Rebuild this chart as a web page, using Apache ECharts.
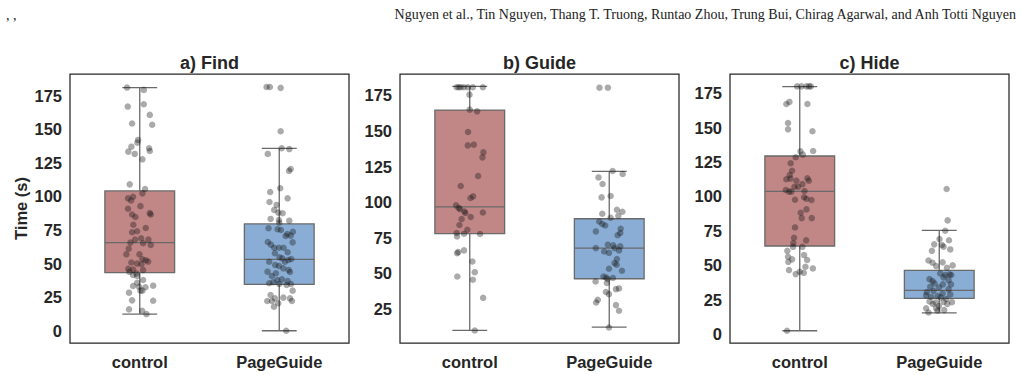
<!DOCTYPE html>
<html>
<head>
<meta charset="utf-8">
<script src="https://cdn.jsdelivr.net/npm/echarts@6/dist/echarts.min.js"></script>
<style>
  html, body { margin: 0; padding: 0; background: #fff; }
  #chart { width: 1021px; height: 375px; }
</style>
</head>
<body>
<div id="chart"></div>
<script>
const headerText = 'Nguyen et al., Tin Nguyen, Thang T. Truong, Runtao Zhou, Trung Bui, Chirag Agarwal, and Anh Totti Nguyen'
const panelTitles = ['a) Find', 'b) Guide', 'c) Hide']
const groups = ['control', 'PageGuide']
const yTicksFull = [0, 25, 50, 75, 100, 125, 150, 175]
const yTicksGuide = [25, 50, 75, 100, 125, 150, 175]

// box stats per group: [low whisker, q1, median, q3, high whisker]
const findBoxes = [[12.6, 43.4, 65.7, 104.1, 180.9], [0.2, 34.7, 53.3, 79.6, 135.8]]
const guideBoxes = [[10.0, 77.9, 96.8, 164.7, 181.3], [12.4, 46.3, 67.8, 88.4, 121.6]]
const hideBoxes = [[2.4, 64.0, 103.7, 129.4, 179.8], [15.4, 25.9, 31.7, 46.3, 75.4]]

// individual times (s) and their strip jitter (in category widths)
const findControlTime = [180.9, 179.2, 166.8, 168.5, 160.6, 154.2, 153.3, 142, 140, 137, 135.8, 133.3, 131.6, 133.8, 127.6, 109, 105.5, 102.3, 98.6, 99.8, 97, 92.8, 90.9, 86.6, 87.6, 86.6, 84.7, 79, 76.6, 73.4, 74.1, 68.9, 67.9, 67.9, 65.7, 65.2, 63.9, 61.2, 57, 57, 53.3, 52.6, 51.6, 50.9, 50.1, 49.6, 46.3, 45.7, 45.3, 44, 42.8, 41.6, 40.9, 37.9, 35.9, 33.5, 33.7, 32.9, 32.5, 30, 30, 28.5, 22.8, 22.5, 16.1, 15.1, 12.6]
const findControlJitter = [-0.091, 0.029, -0.086, 0.029, 0.072, -0.055, 0.089, -0.012, -0.017, -0.06, 0.067, -0.082, -0.036, 0.072, 0.019, -0.072, 0.038, 0.019, -0.084, -0.048, -0.062, 0.005, -0.084, -0.055, 0.072, 0.079, -0.031, -0.046, 0.043, -0.055, -0.019, 0.01, -0.034, 0.062, -0.067, 0.024, 0.079, -0.079, -0.096, -0.002, 0.019, 0.043, 0.06, -0.06, -0.019, 0.012, -0.082, -0.048, 0.024, -0.074, -0.024, -0.048, -0.019, 0.024, -0.019, -0.048, 0.096, -0.005, 0.041, 0.019, 0.005, -0.077, -0.055, 0.096, -0.077, 0.017, 0.048]
const findGuideTime = [181.3, 181.3, 180.7, 148.5, 135.8, 135.2, 131.6, 120.4, 119, 106.1, 103.3, 98.6, 95.9, 93.7, 90, 88, 87.5, 83.3, 82.5, 82, 80.5, 76.4, 75.6, 75.1, 73.8, 72.1, 70.9, 70.6, 66.2, 64.2, 65.9, 61.9, 61.9, 61.9, 58.5, 57.8, 54.8, 54, 52.8, 53.5, 51.5, 51.5, 49.1, 48.3, 46.6, 45.4, 43.9, 44.1, 42.9, 40.9, 38.4, 37.9, 37.2, 36.2, 35.5, 34.9, 34.9, 34.2, 30, 26.8, 24.3, 24.8, 24.3, 22.3, 22.3, 22.3, 20.6, 18.1, 0.2]
const findGuideJitter = [-0.091, -0.067, 0.01, 0.01, 0.017, 0.072, -0.082, 0.082, 0.07, 0.007, -0.065, 0.06, -0.07, -0.019, -0.036, -0.007, 0.024, -0.062, -0.002, 0.072, 0, -0.077, -0.012, 0.012, 0.098, 0.058, 0.082, 0.046, -0.082, -0.06, 0.096, -0.036, -0.002, 0.031, 0.06, -0.031, 0.002, 0.022, 0.065, 0.086, -0.072, 0.041, -0.029, -0.002, 0.029, 0.067, 0.077, -0.084, -0.024, -0.053, 0.019, -0.014, 0.06, -0.043, -0.072, 0.084, 0, 0.053, 0.096, -0.062, -0.031, 0.029, 0.077, -0.086, -0.053, 0.091, -0.007, -0.038, 0.05]

const guideControlTime = [180.7, 180.7, 180.7, 180.7, 180.7, 180.7, 180.7, 175.5, 165, 163.8, 149.3, 139.9, 140.4, 135, 131.5, 118.4, 111.4, 103, 104.1, 97.8, 96, 95.2, 93.5, 92.4, 92.8, 88.2, 89.6, 84, 80.7, 78.4, 77.9, 77.7, 76, 65, 64.3, 66.2, 58.4, 50.9, 47.9, 45.6, 32.9, 10]
const guideControlJitter = [-0.094, -0.079, -0.065, -0.043, -0.014, 0.022, 0.094, -0.002, 0, 0.053, -0.012, -0.014, 0.029, 0.098, 0.091, 0.06, -0.065, 0.005, 0.024, -0.098, -0.079, -0.07, -0.038, -0.031, 0.094, -0.058, 0.007, -0.074, -0.017, -0.094, -0.041, 0.074, -0.091, -0.082, -0.091, -0.041, 0.019, 0.036, -0.089, 0.022, 0.096, 0.036]
const guideGuideTime = [180.4, 180.4, 121.9, 119.8, 117.4, 112.8, 103.4, 104.4, 94.7, 93.3, 91.9, 90.5, 89.1, 86.5, 84.7, 83.7, 81.4, 79.5, 78.4, 76.8, 70.2, 69.7, 69, 67.8, 67.8, 66.2, 65.4, 64.5, 60.1, 57.3, 56.1, 53.3, 51.9, 47.9, 47.2, 46.1, 46.8, 44.4, 43.3, 39, 39.5, 37, 35.5, 31.5, 29.6, 27.8, 23.8, 12.1]
const guideGuideJitter = [-0.07, -0.01, 0.024, 0.096, -0.077, -0.048, -0.055, 0.01, 0.055, 0.094, -0.05, 0.065, 0.01, -0.072, -0.05, -0.029, 0.082, -0.096, 0.079, 0.06, -0.01, 0.029, 0.079, 0.038, -0.096, 0.07, -0.036, -0.002, 0.055, 0.038, 0.053, -0.002, 0.091, -0.041, -0.022, -0.012, 0.026, -0.098, -0.017, 0.048, 0.07, -0.024, -0.002, -0.082, -0.094, 0.048, 0.07, -0.002]

const hideControlTime = [180, 180, 180, 180, 180, 167.2, 168.7, 167.2, 153.4, 148.8, 147.4, 132.8, 133, 130.4, 128.5, 124.1, 118.7, 115.6, 112.5, 113, 113.2, 111.4, 109, 111.4, 107.1, 107.1, 104.7, 103.5, 103.5, 104, 99.4, 98.3, 97.4, 97.6, 90.6, 88.2, 84.3, 84.3, 77.5, 70, 68.1, 66.1, 63.4, 63.4, 60.5, 57.4, 56.2, 54.3, 52.5, 53.8, 48.9, 47.7, 46.5, 45.3, 44.5, 43.6, 2.4]
const hideControlJitter = [-0.019, 0.012, 0.048, 0.067, 0.079, -0.096, -0.074, 0.055, -0.084, -0.084, 0.091, 0.005, 0.096, 0.022, -0.029, -0.065, -0.055, -0.072, -0.096, -0.067, 0.055, -0.024, 0.019, 0.065, -0.012, -0.038, -0.1, -0.06, -0.077, 0.034, 0.031, 0.048, 0.084, -0.034, 0.048, 0.007, 0.086, 0.014, -0.034, -0.041, 0.046, -0.046, -0.048, 0.019, -0.089, 0.031, -0.084, -0.055, -0.082, 0.053, 0.041, 0.094, -0.077, 0, 0.029, -0.029, -0.091]
const hideGuideTime = [105.4, 82.6, 75.1, 69.1, 68.2, 65.2, 64.7, 63.5, 61.5, 60.5, 53.5, 51.8, 52.1, 49.9, 49.4, 48.2, 43.4, 42.9, 44.1, 42.9, 41.2, 39.9, 38.5, 39.2, 36.8, 36.1, 36.1, 34.3, 33.9, 32.5, 31.4, 30.5, 29.5, 28.8, 28.1, 27.6, 26.9, 26.7, 25.5, 23.7, 23, 23.4, 23.2, 21.8, 21.8, 20.3, 18.7, 18.7, 17.4, 15.7, 16.9]
const hideGuideJitter = [0.053, 0.06, 0.043, 0.002, 0.07, -0.036, 0.019, 0.031, 0.079, -0.053, -0.077, -0.048, 0.024, 0.096, -0.022, 0.055, 0.074, 0.086, 0.007, 0.043, 0.031, -0.07, -0.048, 0.067, -0.034, 0.084, 0.026, -0.065, -0.002, 0.067, -0.041, -0.089, 0.024, 0.079, -0.094, -0.012, -0.058, 0.01, 0.05, -0.07, -0.026, 0.031, 0.091, -0.046, 0.058, -0.002, -0.094, -0.022, 0.036, -0.077, -0.012]

const panels = [
  { title: panelTitles[0], boxes: findBoxes, ticks: yTicksFull, min: -8.9, max: 191,
    points: [[findControlTime, findControlJitter], [findGuideTime, findGuideJitter]] },
  { title: panelTitles[1], boxes: guideBoxes, ticks: yTicksGuide, min: 1.2, max: 190,
    points: [[guideControlTime, guideControlJitter], [guideGuideTime, guideGuideJitter]] },
  { title: panelTitles[2], boxes: hideBoxes, ticks: yTicksFull, min: -6.5, max: 189,
    points: [[hideControlTime, hideControlJitter], [hideGuideTime, hideGuideJitter]] },
]

const boxColors = ['#c18686', '#89add4']
const lineColor = '#6a6a6a'
const textColor = '#262626'
const gridLefts = [70, 400, 730]
const gridWidth = 279
const labelFont = 'Liberation Sans'

const chart = echarts.init(document.getElementById('chart'), null, {renderer: 'svg'})

// seaborn-like box: half-width caps, median line, same grey for all strokes
const renderBox = (params, api) => {
  const x = api.value(0)
  const [lo, q1, med, q3, hi] = [1, 2, 3, 4, 5].map(i => api.value(i))
  const p = (dx, v) => api.coord([x + dx, v])
  const lineStyle = {stroke: lineColor, lineWidth: 1.3, fill: null}
  const line = (a, b) => ({type: 'line', shape: {x1: a[0], y1: a[1], x2: b[0], y2: b[1]}, style: lineStyle})
  const tl = p(-0.25, q3)
  const br = p(0.25, q1)
  return {
    type: 'group',
    children: [
      line(p(0, lo), p(0, q1)),
      line(p(0, q3), p(0, hi)),
      line(p(-0.125, lo), p(0.125, lo)),
      line(p(-0.125, hi), p(0.125, hi)),
      {type: 'rect', shape: {x: tl[0], y: tl[1], width: br[0] - tl[0], height: br[1] - tl[1]},
        style: {fill: boxColors[x], stroke: lineColor, lineWidth: 1.3}},
      line(p(-0.25, med), p(0.25, med)),
    ],
  }
}

const grid = [], xAxis = [], yAxis = [], series = [], graphic = []

panels.forEach((panel, i) => {
  grid.push({
    left: gridLefts[i], top: 74, width: gridWidth, height: 269,
    show: true, borderColor: textColor, borderWidth: 1.25, backgroundColor: '#fff',
  })
  xAxis.push({
    type: 'category', gridIndex: i, data: groups,
    axisLine: {show: false}, axisTick: {show: false},
    axisLabel: {color: textColor, fontSize: 16.5, fontWeight: 'bold', fontFamily: labelFont, margin: 10},
  })
  xAxis.push({type: 'value', gridIndex: i, min: -0.5, max: 1.5, show: false})
  yAxis.push({
    type: 'value', gridIndex: i, min: panel.min, max: panel.max,
    name: i === 0 ? 'Time (s)' : '', nameLocation: 'middle', nameGap: 41,
    nameTextStyle: {color: textColor, fontSize: 16.5, fontWeight: 'bold', fontFamily: labelFont},
    axisLine: {show: false}, splitLine: {show: false},
    axisTick: {show: false, customValues: panel.ticks},
    axisLabel: {customValues: panel.ticks, color: textColor, fontSize: 16.5, fontWeight: 'bold',
      fontFamily: labelFont, margin: 8},
  })
  series.push({
    type: 'custom', xAxisIndex: i * 2 + 1, yAxisIndex: i, z: 2,
    renderItem: renderBox,
    encode: {x: 0, y: [1, 2, 3, 4, 5]},
    data: panel.boxes.map((b, g) => [g, ...b]),
  })
  panel.points.forEach(([times, jitter], g) => {
    series.push({
      type: 'scatter', xAxisIndex: i * 2 + 1, yAxisIndex: i, z: 3,
      symbolSize: 6.5,
      itemStyle: {color: 'rgba(20,20,20,0.45)'},
      data: times.map((t, k) => [g + jitter[k], t]),
    })
  })
  graphic.push({
    type: 'text', x: gridLefts[i] + gridWidth / 2, y: 63,
    style: {text: panel.title, align: 'center', verticalAlign: 'middle',
      font: 'bold 18px "Liberation Sans"', fill: textColor},
  })
})

graphic.push({
  type: 'text', x: 1016, y: 14,
  style: {text: headerText, align: 'right', verticalAlign: 'middle',
    font: '14px "Liberation Serif"', fill: '#222'},
})
graphic.push({
  type: 'text', x: 6, y: 15,
  style: {text: ', ,', align: 'left', verticalAlign: 'middle',
    font: '14px "Liberation Serif"', fill: '#222'},
})

chart.setOption({
  animation: false,
  grid, xAxis, yAxis, series, graphic,
})
</script>
</body>
</html>
